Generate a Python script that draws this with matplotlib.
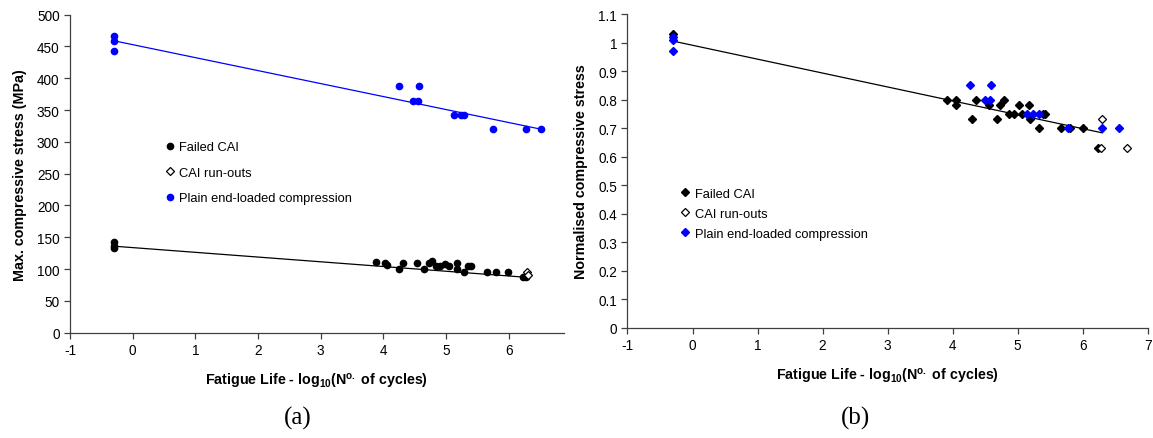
## fatigue life plots: CAI vs plain compression

import numpy as np
import matplotlib
matplotlib.use("Agg")
import matplotlib.pyplot as plt
from matplotlib import rcParams

rcParams['font.family'] = ['Liberation Sans', 'DejaVu Sans']
rcParams['mathtext.default'] = 'regular'
rcParams['axes.unicode_minus'] = False

# ---- panel (a) data: max compressive stress (MPa) ----
a_failed_x = [-0.3, -0.3, -0.3, 3.88, 4.03, 4.05, 4.25, 4.32, 4.53, 4.65, 4.73, 4.77,
              4.84, 4.91, 4.99, 5.05, 5.17, 5.18, 5.28, 5.35, 5.40, 5.65, 5.79, 5.99,
              6.22, 6.27]
a_failed_y = [142, 137, 133, 111, 110, 107, 100, 110, 109, 100, 110, 112,
              105, 105, 108, 105, 109, 100, 96, 105, 105, 96, 96, 96,
              87, 87]
a_runout_x = [6.29, 6.31]
a_runout_y = [96, 90]
a_plain_x = [-0.3, -0.3, -0.3, 4.25, 4.57, 4.48, 4.55, 5.12, 5.24, 5.28, 5.75, 6.27, 6.51]
a_plain_y = [467, 459, 443, 388, 388, 364, 364, 343, 343, 343, 320, 320, 320]
a_trend_cai_x = [-0.3, 6.29]
a_trend_cai_y = [136, 87]
a_trend_plain_x = [-0.3, 6.51]
a_trend_plain_y = [459, 320]

# ---- panel (b) data: normalised compressive stress ----
b_failed_x = [-0.3, 3.91, 4.05, 4.05, 4.30, 4.36, 4.56, 4.68, 4.73, 4.79, 4.87, 4.95,
              5.02, 5.06, 5.18, 5.19, 5.32, 5.39, 5.42, 5.66, 5.81, 6.01, 6.24]
b_failed_y = [1.03, 0.80, 0.80, 0.78, 0.73, 0.80, 0.78, 0.73, 0.78, 0.80, 0.75, 0.75,
              0.78, 0.75, 0.78, 0.73, 0.70, 0.75, 0.75, 0.70, 0.70, 0.70, 0.63]
b_runout_x = [6.30, 6.28, 6.68]
b_runout_y = [0.73, 0.63, 0.63]
b_plain_x = [-0.3, -0.3, -0.3, 4.27, 4.59, 4.50, 4.58, 5.14, 5.24, 5.32, 5.77, 6.30, 6.55]
b_plain_y = [1.02, 1.01, 0.97, 0.85, 0.85, 0.80, 0.80, 0.75, 0.75, 0.75, 0.70, 0.70, 0.70]
b_trend_x = [-0.3, 6.30]
b_trend_y = [1.005, 0.683]

labels = ["Failed CAI", "CAI run-outs", "Plain end-loaded compression"]
xlabel = r"Fatigue Life - log$_{10}$(N$^{o.}$ of cycles)"

fig = plt.figure(figsize=(11.53, 4.39), dpi=100)


def style_axes(ax):
    for s in ["top", "right"]:
        ax.spines[s].set_visible(False)
    for s in ["left", "bottom"]:
        ax.spines[s].set_color("#404040")
        ax.spines[s].set_linewidth(0.9)
    ax.tick_params(direction="out", length=4, width=0.9, color="#404040", labelsize=9.8)


# panel (a)
ax1 = fig.add_axes([0.0607, 0.2399, 0.4284, 0.7244])
ax1.plot(a_trend_plain_x, a_trend_plain_y, color="blue", lw=0.9)
ax1.plot(a_trend_cai_x, a_trend_cai_y, color="black", lw=0.9)
ax1.plot(a_failed_x, a_failed_y, "o", color="black", ms=4.5, label=labels[0])
ax1.plot(a_runout_x, a_runout_y, "D", mfc="white", mec="black", mew=0.9, ms=3.8, label=labels[1])
ax1.plot(a_plain_x, a_plain_y, "o", color="blue", ms=4.5, label=labels[2])
ax1.set_xlim(-1, 6.88)
ax1.set_ylim(0, 500)
ax1.set_xticks(range(-1, 7))
ax1.set_yticks(range(0, 501, 50))
style_axes(ax1)
ax1.set_xlabel(xlabel, fontsize=10.3, fontweight="bold", labelpad=10)
ax1.set_ylabel("Max. compressive stress (MPa)", fontsize=10.3, fontweight="bold", labelpad=7)
ax1.legend(loc="upper left", bbox_to_anchor=(0.19, 0.602), frameon=False, fontsize=9.3,
           handlelength=0.9, handletextpad=0.3, labelspacing=1.05, borderpad=0, borderaxespad=0)

# panel (b)
ax2 = fig.add_axes([0.5442, 0.2517, 0.4513, 0.7141])
ax2.plot(b_trend_x, b_trend_y, color="black", lw=0.9)
ax2.plot(b_failed_x, b_failed_y, "D", color="black", ms=4, label=labels[0])
ax2.plot(b_runout_x, b_runout_y, "D", mfc="white", mec="black", mew=0.9, ms=3.8, label=labels[1])
ax2.plot(b_plain_x, b_plain_y, "D", color="blue", ms=4, label=labels[2])
ax2.set_xlim(-1, 7)
ax2.set_ylim(0, 1.1)
ax2.set_xticks(range(-1, 8))
ax2.set_yticks(np.round(np.arange(0, 1.11, 0.1), 1))
ax2.yaxis.set_major_formatter(matplotlib.ticker.FormatStrFormatter("%g"))
style_axes(ax2)
ax2.set_xlabel(xlabel, fontsize=10.3, fontweight="bold", labelpad=10)
ax2.set_ylabel("Normalised compressive stress", fontsize=10.3, fontweight="bold", labelpad=7)
ax2.legend(loc="upper left", bbox_to_anchor=(0.1, 0.446), frameon=False, fontsize=9.3,
           handlelength=0.9, handletextpad=0.3, labelspacing=0.62, borderpad=0, borderaxespad=0)

# sub captions
fig.text(0.258, 0.047, "(a)", ha="center", va="center", fontsize=18, family="Liberation Serif")
fig.text(0.742, 0.047, "(b)", ha="center", va="center", fontsize=18, family="Liberation Serif")

fig.savefig("out.png", dpi=100)
